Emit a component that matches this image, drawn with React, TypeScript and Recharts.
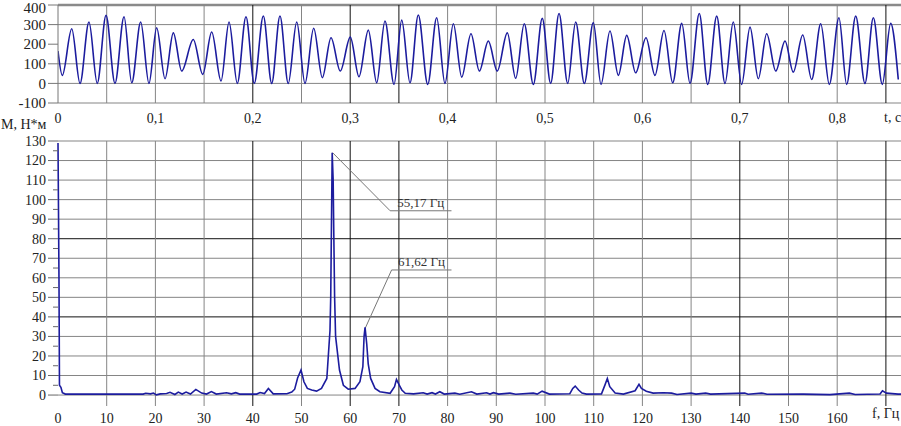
import React from 'react';
import { LineChart, Line, XAxis, YAxis, ReferenceLine, ReferenceDot } from 'recharts';

// torque signal, read as peaks and troughs off the top trace
const timeS = [
  0, 0.0044, 0.0141, 0.0226, 0.0318, 0.0403, 0.0493, 0.0585, 0.0678, 0.0757,
  0.0849, 0.0934, 0.1013, 0.1099, 0.1184, 0.127, 0.1389, 0.1486, 0.1578, 0.1674,
  0.1756, 0.1841, 0.193, 0.2015, 0.2108, 0.2194, 0.2279, 0.2364, 0.2451, 0.2536,
  0.2625, 0.2714, 0.2803, 0.2898, 0.3001, 0.309, 0.3186, 0.3272, 0.3357, 0.345,
  0.3529, 0.3614, 0.3699, 0.3796, 0.3888, 0.3973, 0.4059, 0.4145, 0.424, 0.4326,
  0.4418, 0.451, 0.4613, 0.4699, 0.4787, 0.488, 0.4972, 0.5058, 0.5144, 0.5233,
  0.5315, 0.5404, 0.5496, 0.5575, 0.5667, 0.5753, 0.5839, 0.5931, 0.6037, 0.6129,
  0.6222, 0.6311, 0.6404, 0.6489, 0.6584, 0.6671, 0.6763, 0.6848, 0.6933, 0.7019,
  0.7105, 0.719, 0.7276, 0.7369, 0.7464, 0.7549, 0.7646, 0.7738, 0.7831, 0.7919,
  0.8018, 0.8097, 0.819, 0.8285, 0.8371, 0.8463, 0.8549, 0.8627,
];
const torqueNm = [
  165, 41, 279, 0, 313, 0, 347, 0, 340, 3,
  313, 0, 284, 24, 258, 63, 224, 46, 262, 12,
  313, 0, 340, 0, 344, 0, 344, 0, 313, 0,
  281, 29, 233, 63, 236, 34, 272, 3, 318, -5,
  323, 3, 349, -5, 335, 0, 304, 32, 253, 63,
  216, 63, 258, 26, 304, -5, 332, 0, 357, 0,
  313, 0, 310, -5, 267, 41, 245, 54, 233, 41,
  270, 3, 306, 0, 357, -5, 343, 0, 313, -5,
  287, 24, 253, 63, 216, 58, 247, 20, 304, -5,
  335, -5, 343, 0, 335, -5, 306, 20,
];

// amplitude spectrum
const freqHz = [
  0, 0.1, 0.2, 0.3, 0.6, 0.9, 1.5, 17.5, 18, 19, 19.6, 20.2, 21, 22.3, 23, 24, 24.7, 25.5, 26.3, 27.2,
  28.3, 29.5, 30.5, 31.5, 32.5, 34.6, 35.6, 36.5, 37.3, 40.8, 41.5, 42.4, 43.2, 44.2, 47, 48, 48.6, 49.2,
  49.9, 50.5, 51.2, 52.1, 53.1, 54.1, 55.2, 55.85, 56.0, 56.3, 56.5, 56.65, 56.8, 57.0, 57.8, 58.6, 59.6,
  61, 62, 62.6, 62.85, 63.05, 63.4, 63.7, 64.2, 65.1, 66.1, 68.2, 69.1, 69.5, 70.1, 70.6, 71.3, 73, 75,
  75.8, 76.8, 77.5, 78.4, 79.3, 81.5, 82.5, 84.9, 86, 88, 88.7, 89.4, 90.5, 92.8, 94, 97.6, 98.4, 99.4,
  100.9, 105.1, 105.7, 106.2, 106.9, 107.6, 108.5, 111.6, 112.3, 112.8, 113.3, 114.4, 116.1, 118.5,
  119.3, 119.8, 120.8, 122.2, 124.3, 126, 127.1, 130, 131, 133, 134, 141, 141.7, 144.5, 145.6, 153,
  158.5, 162.5, 163.7, 168.8, 169.3, 170.1, 172.5, 173.1,
];
const spectrumNm = [
  129, 95, 60, 5, 4, 1.2, 0.5, 0.5, 0.9, 0.6, 1, 0.1, 0.6, 0.8, 1.4, 0.3, 1.5, 0.5, 1.5, 0.5,
  2.9, 1, 0.5, 1.8, 0.5, 1.2, 0.6, 1.2, 0.5, 0.5, 1.3, 0.8, 3.4, 0.6, 0.7, 1.5, 3, 8.7,
  12.8, 6.8, 3.4, 2.6, 2, 3.4, 8.5, 33, 50, 124, 110, 79, 50, 30, 12.8, 5, 3,
  3.4, 6.8, 14.5, 30, 34.6, 26, 16, 8.5, 3.4, 1.7, 0.9, 4.3, 8, 5, 2.6, 0.9, 0.6, 1.2,
  0.5, 1.2, 0.5, 1.7, 0.5, 1, 0.4, 1.7, 0.5, 1.2, 0.5, 1.2, 0.5, 1, 0.4, 1, 0.5, 2,
  0.5, 0.7, 3.4, 4.6, 2.6, 1, 0.5, 0.6, 5.1, 8.5, 4.3, 1, 0.5, 2.2,
  5.5, 3.4, 2, 1, 1.2, 1, 0.3, 1, 0.5, 1, 0.5, 1, 0.4, 1, 0.4, 0.5,
  0.2, 1, 0.3, 0.5, 2.2, 1, 0.5, 0.5,
];

const timeTicks = [0, 0.1, 0.2, 0.3, 0.4, 0.5, 0.6, 0.7, 0.8];
const timeGrid = [0.05, 0.1, 0.15, 0.2, 0.25, 0.3, 0.35, 0.4, 0.45, 0.5, 0.55, 0.6, 0.65, 0.7, 0.75, 0.8, 0.85];
const timeGridDark = [0.2, 0.3, 0.35, 0.7, 0.85];
const torqueTicks = [-100, 0, 100, 200, 300, 400];
const torqueGrid = [-100, 0, 100, 300];

const freqTicks = [0, 10, 20, 30, 40, 50, 60, 70, 80, 90, 100, 110, 120, 130, 140, 150, 160];
const freqGrid = [10, 20, 30, 40, 50, 60, 70, 80, 90, 100, 110, 120, 130, 140, 150, 160, 170];
const freqGridDark = [40, 60, 70, 140, 170];
const ampTicks = [0, 5, 10, 15, 20, 25, 30, 35, 40, 45, 50, 55, 60, 65, 70, 75, 80, 85, 90, 95, 100, 105, 110, 115, 120, 125, 130];
const ampGrid = [0, 10, 20, 30, 40, 50, 60, 70, 80, 90, 100, 110, 120, 130];
const ampGridDark = [40, 80];

// peak call-outs: leader from peak to elbow, then a shelf under the text
const peakNames = ['55,17 Гц', '61,62 Гц'];
const peakTipF = [56.4, 63.05];
const peakTipA = [124, 34];
const elbowF = [68.2, 68.5];
const shelfA = [94.3, 64];
const shelfEndF = [80.8, 80.8];

const signalData = timeS.map((t, i) => ({ t, m: torqueNm[i] }));
const spectrumData = freqHz.map((f, i) => ({ f, a: spectrumNm[i] }));

const SERIF = "'Liberation Serif', 'DejaVu Serif', 'Noto Serif', 'Times New Roman', serif";
const BLUE = '#1c1c9e';
const GRID = '#858585';
const TEXT = '#222';

const comma = (v: number) => String(v).replace('.', ',');

const TorqueTick = (props: any) => {
  const { x, y, payload } = props;
  return (
    <text x={x} y={Math.max(y, 8)} dy="0.35em" textAnchor="end" fill={TEXT} fontSize={15} fontFamily={SERIF}>
      {payload.value}
    </text>
  );
};

const AmpTick = (props: any) => {
  const { x, y, payload } = props;
  const v = payload.value as number;
  const major = v % 10 === 0;
  const axisX = x + 12;
  return (
    <g>
      <line x1={axisX - (major ? 10 : 5)} x2={axisX} y1={y} y2={y} stroke="#666" />
      {major && (
        <text x={x} y={y} dy="0.35em" textAnchor="end" fill={TEXT} fontSize={14} fontFamily={SERIF}>
          {v}
        </text>
      )}
    </g>
  );
};

const labelStyle: React.CSSProperties = {
  position: 'absolute',
  fontFamily: SERIF,
  fontSize: 14,
  lineHeight: '14px',
  color: TEXT,
  whiteSpace: 'nowrap',
};

export default function App() {
  return (
    <div style={{ position: 'absolute', left: 0, top: 0, width: 901, height: 426, background: '#fff', overflow: 'hidden' }}>
      <div style={{ position: 'absolute', left: 0, top: 0 }}>
        <LineChart width={901} height={130} data={signalData} margin={{ top: 5, right: 0, bottom: 0, left: 0 }}>
          <XAxis
            type="number"
            dataKey="t"
            domain={[0, 0.8655]}
            allowDataOverflow
            ticks={timeTicks}
            interval={0}
            tickFormatter={comma}
            axisLine={false}
            tickLine={false}
            tickSize={6}
            tickMargin={4}
            height={27}
            tick={{ fill: TEXT, fontSize: 14, fontFamily: SERIF }}
          />
          <YAxis
            type="number"
            domain={[-100, 400]}
            allowDataOverflow
            ticks={torqueTicks}
            interval={0}
            width={58}
            tickSize={10}
            tickMargin={2}
            axisLine={{ stroke: '#777' }}
            tickLine={{ stroke: '#777' }}
            tick={<TorqueTick />}
          />
          {torqueGrid.map((v) => (
            <ReferenceLine key={`ty${v}`} y={v} stroke={GRID} />
          ))}
          <ReferenceLine y={400} stroke="#8a8a8a" strokeWidth={2.5} />
          {timeGrid.map((v) => (
            <ReferenceLine key={`tx${v}`} x={v} stroke={timeGridDark.includes(v) ? '#111' : GRID} />
          ))}
          <Line type="monotone" dataKey="m" stroke={BLUE} strokeWidth={1.6} dot={false} isAnimationActive={false} />
        </LineChart>
      </div>

      <div style={{ position: 'absolute', left: 0, top: 130 }}>
        <LineChart width={901} height={296} data={spectrumData} margin={{ top: 11, right: 0, bottom: 0, left: 0 }}>
          <XAxis
            type="number"
            dataKey="f"
            domain={[0, 173.1]}
            ticks={freqTicks}
            interval={0}
            axisLine={false}
            tickLine={false}
            tickSize={6}
            tickMargin={1}
            height={20}
            tick={{ fill: TEXT, fontSize: 14, fontFamily: SERIF }}
          />
          <YAxis
            type="number"
            domain={[-5.6, 130]}
            ticks={ampTicks}
            interval={0}
            width={58}
            tickSize={10}
            tickMargin={2}
            axisLine={false}
            tickLine={false}
            tick={<AmpTick />}
          />
          {ampGrid.map((v) => (
            <ReferenceLine key={`ay${v}`} y={v} stroke={ampGridDark.includes(v) ? '#111' : GRID} />
          ))}
          {freqGrid.map((v) => (
            <ReferenceLine key={`fx${v}`} x={v} stroke={freqGridDark.includes(v) ? '#111' : GRID} />
          ))}
          {peakNames.map((name, i) => (
            <ReferenceLine
              key={`lead${i}`}
              segment={[{ x: peakTipF[i], y: peakTipA[i] }, { x: elbowF[i], y: shelfA[i] }]}
              stroke="#777"
            />
          ))}
          {peakNames.map((name, i) => (
            <ReferenceLine
              key={`shelf${i}`}
              segment={[{ x: elbowF[i], y: shelfA[i] }, { x: shelfEndF[i], y: shelfA[i] }]}
              stroke="#777"
            />
          ))}
          <Line type="linear" dataKey="a" stroke={BLUE} strokeWidth={1.6} dot={false} isAnimationActive={false} />
          {peakNames.map((name, i) => (
            <ReferenceDot
              key={`lab${i}`}
              x={(elbowF[i] + shelfEndF[i]) / 2}
              y={shelfA[i]}
              r={0}
              fill="none"
              stroke="none"
              label={{ value: name, position: 'top', offset: 4, fill: '#333', fontSize: 13, fontFamily: SERIF }}
            />
          ))}
        </LineChart>
      </div>

      <div style={{ ...labelStyle, left: 1, top: 118 }}>М, Н*м</div>
      <div style={{ ...labelStyle, left: 884, top: 111 }}>t, c</div>
      <div style={{ ...labelStyle, left: 872, top: 407 }}>f, Гц</div>
    </div>
  );
}
